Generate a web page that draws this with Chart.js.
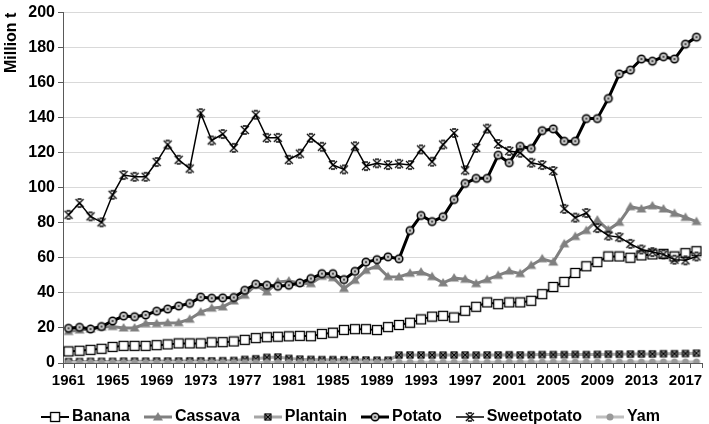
<!DOCTYPE html>
<html>
<head>
<meta charset="utf-8">
<script src="https://cdn.jsdelivr.net/npm/chart.js@4.4.1/dist/chart.umd.min.js"></script>
<style>
  html, body { margin: 0; padding: 0; background: #fff; }
  #wrap { width: 709px; height: 424px; }
</style>
</head>
<body>
<div id="wrap"><canvas id="chart"></canvas></div>
<script>
// Годы (категории)
const years = Array.from({ length: 58 }, (_, i) => String(1961 + i));

// Значения, млн т
const banana = [6.6, 7.0, 7.5, 8.1, 9.2, 9.8, 9.8, 9.8, 10.2, 10.6,
  11.2, 11.2, 11.2, 11.8, 11.9, 12.3, 13.2, 14.2, 14.7, 15.0,
  15.2, 15.5, 15.3, 16.6, 17.3, 18.9, 19.3, 19.3, 18.8, 20.5,
  21.7, 23.0, 24.9, 26.5, 26.9, 26.0, 29.8, 32.1, 34.6, 33.6,
  34.6, 34.6, 35.5, 39.3, 43.4, 46.3, 51.4, 55.2, 57.6, 60.8,
  60.8, 60.1, 61.4, 62.0, 62.3, 60.8, 62.7, 63.8];
const cassava = [18.0, 18.8, 19.4, 20.5, 20.8, 20.0, 20.0, 22.5, 22.5, 22.9,
  23.0, 25.0, 29.0, 31.3, 32.0, 35.4, 38.7, 44.4, 40.6, 46.3,
  46.8, 45.7, 45.3, 49.5, 48.7, 42.5, 47.2, 52.9, 55.4, 49.3,
  49.1, 51.2, 51.9, 49.3, 45.7, 48.5, 47.8, 45.3, 47.6, 50.0,
  52.5, 51.0, 55.7, 59.5, 57.6, 68.0, 72.2, 75.6, 81.6, 76.0,
  80.3, 89.2, 87.9, 89.7, 87.9, 85.4, 83.1, 80.7];
const plantain = [0.8, 0.8, 0.9, 0.9, 0.9, 1.0, 1.0, 1.0, 1.1, 1.1,
  1.1, 1.2, 1.2, 1.2, 1.3, 1.4, 2.0, 2.4, 3.2, 3.4,
  2.6, 2.2, 2.0, 1.9, 1.9, 1.8, 1.8, 1.7, 1.6, 1.6,
  4.5, 4.6, 4.6, 4.6, 4.5, 4.6, 4.6, 4.5, 4.6, 4.6,
  4.7, 4.6, 4.7, 4.8, 4.8, 4.8, 4.9, 4.8, 4.9, 5.0,
  5.0, 5.1, 5.2, 5.2, 5.3, 5.3, 5.4, 5.6];
const potato = [19.8, 20.4, 19.4, 20.8, 24.0, 26.8, 26.4, 27.4, 29.6, 30.8,
  32.5, 34.0, 37.6, 37.0, 37.2, 37.4, 41.5, 45.0, 44.4, 43.8,
  44.4, 45.7, 48.2, 51.0, 51.0, 47.6, 52.3, 57.6, 59.0, 60.6,
  59.5, 75.6, 84.2, 80.7, 83.5, 93.3, 102.5, 105.4, 105.4, 118.6,
  114.3, 123.7, 122.4, 132.6, 133.6, 126.6, 126.6, 139.5, 139.5, 151.0,
  165.0, 167.2, 173.5, 172.3, 174.8, 173.5, 182.0, 186.0];
const sweetpotato = [84.6, 91.3, 83.7, 80.3, 96.0, 107.3, 106.3, 106.3, 114.7, 124.7,
  116.0, 111.0, 142.6, 127.0, 130.7, 122.8, 133.0, 141.7, 128.5, 128.5,
  116.0, 119.5, 128.5, 123.4, 113.0, 110.5, 123.7, 112.4, 114.0, 113.0,
  113.7, 113.0, 121.9, 114.9, 124.7, 131.3, 110.0, 122.8, 133.8, 125.0,
  121.0, 120.0, 114.3, 113.0, 109.6, 88.0, 83.0, 85.6, 77.0, 72.7,
  71.8, 68.0, 64.8, 63.3, 62.0, 59.0, 58.6, 60.8];
const yam = [0.3, 0.3, 0.3, 0.3, 0.3, 0.3, 0.3, 0.3, 0.3, 0.3,
  0.3, 0.3, 0.3, 0.3, 0.3, 0.3, 0.3, 0.3, 0.3, 0.3,
  0.35, 0.35, 0.35, 0.35, 0.35, 0.4, 0.4, 0.4, 0.4, 0.4,
  0.4, 0.4, 0.4, 0.45, 0.45, 0.45, 0.45, 0.45, 0.45, 0.45,
  0.5, 0.5, 0.5, 0.5, 0.5, 0.5, 0.5, 0.55, 0.55, 0.55,
  0.55, 0.55, 0.55, 0.6, 0.6, 0.6, 0.6, 0.6];

const yTicks = [0, 20, 40, 60, 80, 100, 120, 140, 160, 180, 200];

const FONT = "'Liberation Sans', Arial, sans-serif";

// Маркеры рисуем сами, чтобы они совпадали в графике и в легенде
function drawMarker(ctx, kind, cx, cy) {
  ctx.save();
  if (kind === 'square') {
    ctx.fillStyle = '#fff';
    ctx.strokeStyle = '#000';
    ctx.lineWidth = 1.3;
    ctx.fillRect(cx - 4.5, cy - 4.5, 9, 9);
    ctx.strokeRect(cx - 4.5, cy - 4.5, 9, 9);
  } else if (kind === 'triangle') {
    ctx.fillStyle = '#808080';
    ctx.beginPath();
    ctx.moveTo(cx, cy - 5);
    ctx.lineTo(cx + 5, cy + 3.5);
    ctx.lineTo(cx - 5, cy + 3.5);
    ctx.closePath();
    ctx.fill();
  } else if (kind === 'boxx') {
    ctx.strokeStyle = '#000';
    ctx.lineWidth = 1.2;
    ctx.strokeRect(cx - 3, cy - 3, 6, 6);
    ctx.beginPath();
    ctx.moveTo(cx - 3, cy - 3); ctx.lineTo(cx + 3, cy + 3);
    ctx.moveTo(cx + 3, cy - 3); ctx.lineTo(cx - 3, cy + 3);
    ctx.stroke();
  } else if (kind === 'ring') {
    ctx.fillStyle = '#c8c8c8';
    ctx.strokeStyle = '#000';
    ctx.lineWidth = 1.5;
    ctx.beginPath();
    ctx.arc(cx, cy, 3.8, 0, Math.PI * 2);
    ctx.fill();
    ctx.stroke();
    ctx.fillStyle = '#333';
    ctx.beginPath();
    ctx.arc(cx, cy, 1.1, 0, Math.PI * 2);
    ctx.fill();
  } else if (kind === 'star') {
    ctx.strokeStyle = '#000';
    ctx.lineWidth = 1.3;
    ctx.beginPath();
    ctx.moveTo(cx - 4, cy - 4); ctx.lineTo(cx + 4, cy + 4);
    ctx.moveTo(cx + 4, cy - 4); ctx.lineTo(cx - 4, cy + 4);
    ctx.moveTo(cx - 2, cy - 4); ctx.lineTo(cx + 2, cy - 4);
    ctx.moveTo(cx - 2, cy + 4); ctx.lineTo(cx + 2, cy + 4);
    ctx.stroke();
  } else if (kind === 'dot') {
    ctx.fillStyle = '#999';
    ctx.beginPath();
    ctx.arc(cx, cy, 3.5, 0, Math.PI * 2);
    ctx.fill();
  }
  ctx.restore();
}

function markerCanvas(kind) {
  const c = document.createElement('canvas');
  c.width = 12; c.height = 12;
  drawMarker(c.getContext('2d'), kind, 6, 6);
  return c;
}

// Значок легенды: линия с маркером на всю ширину картинки
function legendIcon(kind, color, width) {
  const c = document.createElement('canvas');
  c.width = 28; c.height = 12;
  const ctx = c.getContext('2d');
  ctx.strokeStyle = color;
  ctx.lineWidth = width;
  ctx.beginPath();
  ctx.moveTo(0, 6); ctx.lineTo(28, 6);
  ctx.stroke();
  drawMarker(ctx, kind, 14, 6);
  return c;
}

const series = [
  { label: 'Banana', data: banana, color: '#000', width: 2, marker: 'square' },
  { label: 'Cassava', data: cassava, color: '#808080', width: 3, marker: 'triangle' },
  { label: 'Plantain', data: plantain, color: '#a6a6a6', width: 3, marker: 'boxx' },
  { label: 'Potato', data: potato, color: '#000', width: 3, marker: 'ring' },
  { label: 'Sweetpotato', data: sweetpotato, color: '#000', width: 1.5, marker: 'star' },
  { label: 'Yam', data: yam, color: '#bfbfbf', width: 3, marker: 'dot' }
];

const icons = series.map(s => legendIcon(s.marker, s.color, s.width));

const datasets = series.map((s, i) => ({
  label: s.label,
  data: s.data,
  borderColor: s.color,
  backgroundColor: s.color,
  borderWidth: s.width,
  pointStyle: markerCanvas(s.marker),
  pointRadius: 4,
  tension: 0,
  order: series.length - i
}));

new Chart(document.getElementById('chart'), {
  type: 'line',
  data: { labels: years, datasets },
  options: {
    responsive: true,
    maintainAspectRatio: false,
    animation: false,
    devicePixelRatio: 1,
    layout: { padding: { top: 10, right: 3, left: 0, bottom: 0 } },
    plugins: {
      tooltip: { enabled: false },
      legend: {
        position: 'bottom',
        maxHeight: 34,
        sort: (a, b) => a.datasetIndex - b.datasetIndex,
        labels: {
          usePointStyle: true,
          pointStyleWidth: 18,
          padding: 19,
          color: '#000',
          font: { family: FONT, size: 16, weight: 'bold' },
          generateLabels: (chart) => series.map((s, i) => ({
            text: s.label,
            datasetIndex: i,
            pointStyle: icons[i],
            fillStyle: s.color,
            strokeStyle: s.color,
            lineWidth: 0,
            hidden: false
          }))
        }
      }
    },
    scales: {
      x: {
        offset: true,
        afterFit: (s) => { s.height = 27; },
        grid: {
          offset: true,
          drawOnChartArea: false,
          drawTicks: true,
          tickLength: 5,
          tickColor: '#595959'
        },
        border: { color: '#595959', width: 1 },
        ticks: {
          autoSkip: false,
          maxRotation: 0,
          padding: 4,
          color: '#000',
          font: { family: FONT, size: 15, weight: 'bold' },
          callback: (v, i) => (i % 4 === 0 ? years[i] : '')
        }
      },
      y: {
        min: 0,
        max: 200,
        afterFit: (s) => { s.width = 63; },
        afterBuildTicks: (s) => { s.ticks = yTicks.map(v => ({ value: v })); },
        grid: {
          color: '#d9d9d9',
          lineWidth: 1,
          tickLength: 5,
          tickColor: '#595959'
        },
        border: { color: '#595959', width: 1 },
        ticks: {
          padding: 3,
          color: '#000',
          font: { family: FONT, size: 16, weight: 'bold' }
        },
        title: {
          display: true,
          text: 'Million t',
          align: 'end',
          padding: { top: 2, bottom: 0 },
          color: '#000',
          font: { family: FONT, size: 16, weight: 'bold' }
        }
      }
    }
  }
});
</script>
</body>
</html>
